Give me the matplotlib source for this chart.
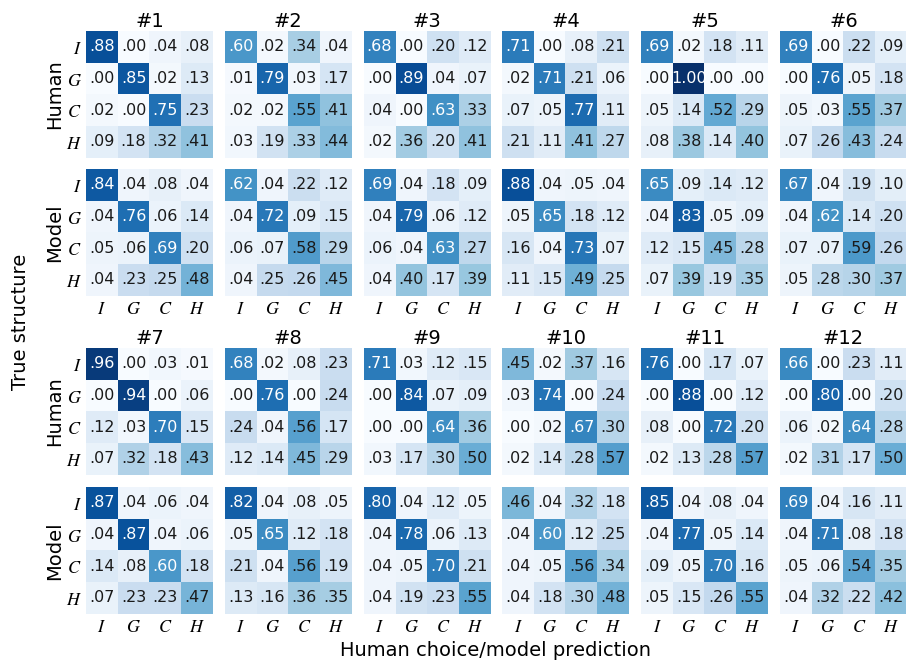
import numpy as np
import matplotlib
matplotlib.use("Agg")
import matplotlib.pyplot as plt
from matplotlib.colors import Normalize

plt.rcParams['mathtext.fontset'] = 'stix'

labels = ['$I$', '$G$', '$C$', '$H$']
titles = ['#%d' % (i + 1) for i in range(12)]

# rows = true structure, cols = choice/prediction (I, G, C, H)
human1 = [[.88, .00, .04, .08], [.00, .85, .02, .13], [.02, .00, .75, .23], [.09, .18, .32, .41]]
model1 = [[.84, .04, .08, .04], [.04, .76, .06, .14], [.05, .06, .69, .20], [.04, .23, .25, .48]]
human2 = [[.60, .02, .34, .04], [.01, .79, .03, .17], [.02, .02, .55, .41], [.03, .19, .33, .44]]
model2 = [[.62, .04, .22, .12], [.04, .72, .09, .15], [.06, .07, .58, .29], [.04, .25, .26, .45]]
human3 = [[.68, .00, .20, .12], [.00, .89, .04, .07], [.04, .00, .63, .33], [.02, .36, .20, .41]]
model3 = [[.69, .04, .18, .09], [.04, .79, .06, .12], [.06, .04, .63, .27], [.04, .40, .17, .39]]
human4 = [[.71, .00, .08, .21], [.02, .71, .21, .06], [.07, .05, .77, .11], [.21, .11, .41, .27]]
model4 = [[.88, .04, .05, .04], [.05, .65, .18, .12], [.16, .04, .73, .07], [.11, .15, .49, .25]]
human5 = [[.69, .02, .18, .11], [.00, 1.00, .00, .00], [.05, .14, .52, .29], [.08, .38, .14, .40]]
model5 = [[.65, .09, .14, .12], [.04, .83, .05, .09], [.12, .15, .45, .28], [.07, .39, .19, .35]]
human6 = [[.69, .00, .22, .09], [.00, .76, .05, .18], [.05, .03, .55, .37], [.07, .26, .43, .24]]
model6 = [[.67, .04, .19, .10], [.04, .62, .14, .20], [.07, .07, .59, .26], [.05, .28, .30, .37]]
human7 = [[.96, .00, .03, .01], [.00, .94, .00, .06], [.12, .03, .70, .15], [.07, .32, .18, .43]]
model7 = [[.87, .04, .06, .04], [.04, .87, .04, .06], [.14, .08, .60, .18], [.07, .23, .23, .47]]
human8 = [[.68, .02, .08, .23], [.00, .76, .00, .24], [.24, .04, .56, .17], [.12, .14, .45, .29]]
model8 = [[.82, .04, .08, .05], [.05, .65, .12, .18], [.21, .04, .56, .19], [.13, .16, .36, .35]]
human9 = [[.71, .03, .12, .15], [.00, .84, .07, .09], [.00, .00, .64, .36], [.03, .17, .30, .50]]
model9 = [[.80, .04, .12, .05], [.04, .78, .06, .13], [.04, .05, .70, .21], [.04, .19, .23, .55]]
human10 = [[.45, .02, .37, .16], [.03, .74, .00, .24], [.00, .02, .67, .30], [.02, .14, .28, .57]]
model10 = [[.46, .04, .32, .18], [.04, .60, .12, .25], [.04, .05, .56, .34], [.04, .18, .30, .48]]
human11 = [[.76, .00, .17, .07], [.00, .88, .00, .12], [.08, .00, .72, .20], [.02, .13, .28, .57]]
model11 = [[.85, .04, .08, .04], [.04, .77, .05, .14], [.09, .05, .70, .16], [.05, .15, .26, .55]]
human12 = [[.66, .00, .23, .11], [.00, .80, .00, .20], [.06, .02, .64, .28], [.02, .31, .17, .50]]
model12 = [[.69, .04, .16, .11], [.04, .71, .08, .18], [.05, .06, .54, .35], [.04, .32, .22, .42]]

humans = [human1, human2, human3, human4, human5, human6,
          human7, human8, human9, human10, human11, human12]
models = [model1, model2, model3, model4, model5, model6,
          model7, model8, model9, model10, model11, model12]

W, H = 906, 665
fig = plt.figure(figsize=(W / 100, H / 100), dpi=100)
cmap = plt.get_cmap('Blues')
norm = Normalize(0, 1)

col_x = [86 + i * 138.8 for i in range(6)]
row_top = [[31, 169], [348, 487]]  # (human, model) for each block
size = 126.8


def draw(ax, M):
    M = np.array(M)
    ax.imshow(M, cmap=cmap, norm=norm, interpolation='nearest', aspect='auto')
    for i in range(4):
        for j in range(4):
            v = M[i, j]
            s = ('%.2f' % v)
            if s.startswith('0'):
                s = s[1:]
            tc = 'w' if v >= .595 else '.1'
            ax.text(j, i, s, ha='center', va='center', fontsize=11.5, color=tc)
    ax.set_xticks(range(4))
    ax.set_yticks(range(4))
    ax.tick_params(length=0, pad=3, labelsize=13)
    for sp in ax.spines.values():
        sp.set_visible(False)


for k in range(12):
    blk, c = divmod(k, 6)
    for r, M in enumerate([humans[k], models[k]]):
        top = row_top[blk][r]
        ax = fig.add_axes([col_x[c] / W, 1 - (top + size) / H, size / W, size / H])
        draw(ax, M)
        if c == 0:
            ax.set_yticklabels(labels)
        else:
            ax.set_yticklabels([])
        if r == 1:
            ax.set_xticklabels(labels)
        else:
            ax.set_xticklabels([])
        if r == 0:
            ax.set_title(titles[k], fontsize=14, pad=3)
        if c == 0:
            fig.text(55 / W, 1 - (top + size / 2) / H, ['Human', 'Model'][r],
                     rotation=90, ha='center', va='center', fontsize=14)

fig.text(21 / W, 1 - 322 / H, 'True structure', rotation=90,
         ha='center', va='center', fontsize=14)
fig.text(496 / W, 1 - 650 / H, 'Human choice/model prediction',
         ha='center', va='center', fontsize=14)

fig.savefig('out.png', dpi=100)
